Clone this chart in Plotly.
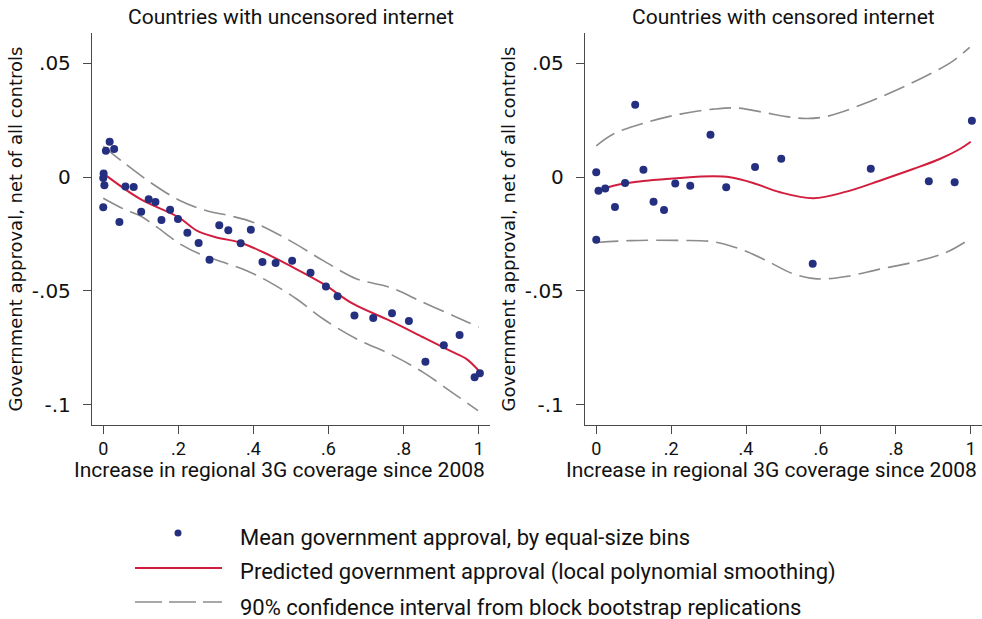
import plotly.graph_objects as go

# ---------------- data ----------------
left_x = [0.000, 0.000, 0.001, 0.003, 0.007, 0.017, 0.029, 0.043, 0.059, 0.081, 0.101, 0.121, 0.139,
          0.155, 0.178, 0.199, 0.224, 0.254, 0.283, 0.309, 0.333, 0.366, 0.393, 0.424, 0.459, 0.503,
          0.552, 0.593, 0.624, 0.669, 0.719, 0.769, 0.814, 0.858, 0.907, 0.949, 0.989, 1.003]
left_y = [-0.0004, -0.0133, 0.0016, -0.0036, 0.0115, 0.0155, 0.0123, -0.0197, -0.0041, -0.0044,
          -0.0152, -0.0098, -0.0110, -0.0189, -0.0143, -0.0184, -0.0244, -0.0289, -0.0363, -0.0212,
          -0.0234, -0.0291, -0.0231, -0.0373, -0.0377, -0.0367, -0.0420, -0.0480, -0.0523, -0.0608,
          -0.0618, -0.0598, -0.0632, -0.0810, -0.0738, -0.0693, -0.0879, -0.0861]

left_fit_x = [0, 0.098, 0.2, 0.249, 0.302, 0.364, 0.426, 0.497, 0.586, 0.666, 0.763, 0.852, 0.923, 0.967, 1.0]
left_fit_y = [0.0016, -0.0096, -0.0176, -0.0235, -0.0265, -0.0287, -0.0330, -0.0389, -0.0469, -0.0557,
              -0.0630, -0.0703, -0.0762, -0.0798, -0.0850]
left_hi_x = [0, 0.054, 0.125, 0.205, 0.276, 0.338, 0.4, 0.497, 0.586, 0.675, 0.763, 0.852, 0.941, 1.0]
left_hi_y = [0.0135, 0.0064, -0.0023, -0.0104, -0.0148, -0.0170, -0.0199, -0.0279, -0.0367, -0.0447,
             -0.0484, -0.0550, -0.0615, -0.0659]
left_lo_x = [0, 0.054, 0.098, 0.143, 0.205, 0.258, 0.32, 0.382, 0.444, 0.515, 0.586, 0.675, 0.763, 0.852, 0.941, 0.998]
left_lo_y = [-0.0093, -0.0140, -0.0170, -0.0220, -0.0294, -0.0338, -0.0374, -0.0411, -0.0462, -0.0535,
             -0.0623, -0.0711, -0.0776, -0.0857, -0.0959, -0.1025]

right_x = [0.000, 0.000, 0.006, 0.024, 0.050, 0.077, 0.104, 0.126, 0.153, 0.181, 0.211, 0.251, 0.305,
           0.347, 0.424, 0.494, 0.578, 0.733, 0.888, 0.957, 1.003]
right_y = [0.0021, -0.0275, -0.0060, -0.0050, -0.0132, -0.0026, 0.0317, 0.0032, -0.0108, -0.0145,
           -0.0028, -0.0038, 0.0186, -0.0045, 0.0044, 0.0080, -0.0380, 0.0036, -0.0018, -0.0023, 0.0247]

right_fit_x = [0, 0.046, 0.135, 0.224, 0.313, 0.357, 0.419, 0.491, 0.58, 0.668, 0.757, 0.846, 0.917, 0.971, 1.0]
right_fit_y = [-0.0064, -0.0038, -0.0016, -0.0004, 0.0003, -0.0001, -0.0026, -0.0067, -0.0093, -0.0064,
               -0.0016, 0.0035, 0.0079, 0.0123, 0.0155]
right_hi_x = [0, 0.046, 0.135, 0.224, 0.313, 0.375, 0.446, 0.508, 0.562, 0.615, 0.713, 0.802, 0.891, 0.953, 0.997]
right_hi_y = [0.0137, 0.0189, 0.0240, 0.0276, 0.0298, 0.0303, 0.0284, 0.0265, 0.0257, 0.0266, 0.0320,
              0.0382, 0.0452, 0.0510, 0.0569]
right_lo_x = [0, 0.091, 0.224, 0.313, 0.384, 0.455, 0.526, 0.589, 0.668, 0.757, 0.846, 0.935, 1.0]
right_lo_y = [-0.0287, -0.0279, -0.0278, -0.0284, -0.0316, -0.0367, -0.0425, -0.0447, -0.0436, -0.0404,
              -0.0374, -0.0330, -0.0269]

x_tickvals = [0, 0.2, 0.4, 0.6, 0.8, 1]
x_ticktext = ["0", ".2", ".4", ".6", ".8", "1"]
y_tickvals = [0.05, 0, -0.05, -0.1]
y_ticktext = [".05", "0", "-.05", "-.1"]

titles = ["Countries with uncensored internet", "Countries with censored internet"]
x_title = "Increase in regional 3G coverage since 2008"
y_title = "Government approval, net of all controls"
legend_labels = ["Mean government approval, by equal-size bins",
                 "Predicted government approval (local polynomial smoothing)",
                 "90% confidence interval from block bootstrap replications"]

# ---------------- style ----------------
W, H = 982, 619
NAVY = "#242f80"
RED = "#d21e3e"
GRAY = "#8c8c8c"
AX = "#4a4a4a"
DASH = "22px,8px"
DIN = "Roboto, Lato, sans-serif"
VER = "DejaVu Sans, Verdana, sans-serif"

fig = go.Figure()

panels = [
    ("x", "y", left_x, left_y, left_fit_x, left_fit_y, left_hi_x, left_hi_y, left_lo_x, left_lo_y),
    ("x2", "y2", right_x, right_y, right_fit_x, right_fit_y, right_hi_x, right_hi_y, right_lo_x, right_lo_y),
]
for xa, ya, px, py, fx, fy, hx, hy, lx, ly in panels:
    fig.add_trace(go.Scatter(x=hx, y=hy, xaxis=xa, yaxis=ya, mode="lines", line_shape="spline",
                             line=dict(color=GRAY, width=1.6, dash=DASH), showlegend=False))
    fig.add_trace(go.Scatter(x=lx, y=ly, xaxis=xa, yaxis=ya, mode="lines", line_shape="spline",
                             line=dict(color=GRAY, width=1.6, dash=DASH), showlegend=False))
    fig.add_trace(go.Scatter(x=fx, y=fy, xaxis=xa, yaxis=ya, mode="lines", line_shape="spline",
                             line=dict(color=RED, width=2), showlegend=False))
    fig.add_trace(go.Scatter(x=px, y=py, xaxis=xa, yaxis=ya, mode="markers",
                             marker=dict(color=NAVY, size=8, line=dict(width=0)), showlegend=False))

y_top_px, y_bot_px = 33, 425
ydom = [1 - y_bot_px / H, 1 - y_top_px / H]
xdoms = [[92 / W, 490 / W], [585 / W, 982 / W]]

common_x = dict(range=[-0.03, 1.03], tickvals=x_tickvals, ticktext=x_ticktext, showgrid=False,
                zeroline=False, showline=True, linecolor=AX, linewidth=1.3, ticks="outside",
                ticklen=8, tickwidth=1.3, tickcolor=AX, ticklabelstandoff=-1,
                tickfont=dict(family=DIN, size=18, color="#111"))
common_y = dict(range=[-0.1088, 0.0632], tickvals=y_tickvals, ticktext=y_ticktext, showgrid=False,
                zeroline=False, showline=True, linecolor=AX, linewidth=1.3, ticks="outside",
                ticklen=8, tickwidth=1.3, tickcolor=AX, ticklabelstandoff=8,
                tickfont=dict(family=VER, size=20, color="#111"),
                title=dict(text=y_title, font=dict(family=VER, size=18, color="#111"), standoff=4))

fig.update_layout(
    width=W, height=H, margin=dict(l=0, r=0, t=0, b=0),
    paper_bgcolor="white", plot_bgcolor="white", showlegend=False,
    xaxis=dict(domain=xdoms[0], anchor="y", **common_x),
    yaxis=dict(domain=ydom, anchor="x", **common_y),
    xaxis2=dict(domain=xdoms[1], anchor="y2", **common_x),
    yaxis2=dict(domain=ydom, anchor="x2", **common_y),
)

annotations = []
for i, dom in enumerate(xdoms):
    cx = (dom[0] + dom[1]) / 2
    annotations.append(dict(text=titles[i], x=cx, y=1 - 17 / H, xref="paper", yref="paper",
                            xanchor="center", yanchor="middle", showarrow=False,
                            font=dict(family=DIN, size=21, color="#111")))
    annotations.append(dict(text=x_title, x=cx - 12 / W, y=1 - 470 / H, xref="paper", yref="paper",
                            xanchor="center", yanchor="middle", showarrow=False,
                            font=dict(family=DIN, size=21, color="#111")))

# legend (drawn manually to match the original key layout)
leg_rows = [537, 572, 607]
for lab, row in zip(legend_labels, leg_rows):
    annotations.append(dict(text=lab, x=238 / W, y=1 - row / H, xref="paper", yref="paper",
                            xanchor="left", yanchor="middle", showarrow=False,
                            font=dict(family=DIN, size=22, color="#111")))
fig.update_layout(annotations=annotations)

shapes = [
    dict(type="circle", xref="paper", yref="paper", x0=174.5 / W, x1=181.5 / W,
         y0=1 - 536.5 / H, y1=1 - 529.5 / H, fillcolor=NAVY, line=dict(width=0)),
    dict(type="line", xref="paper", yref="paper", x0=135 / W, x1=222 / W,
         y0=1 - 568 / H, y1=1 - 568 / H, line=dict(color=RED, width=2)),
    dict(type="line", xref="paper", yref="paper", x0=135 / W, x1=222 / W,
         y0=1 - 602 / H, y1=1 - 602 / H, line=dict(color=GRAY, width=1.6, dash="27px,7px")),
]
fig.update_layout(shapes=shapes)

fig.write_html("out.html", config={"displayModeBar": False},
               post_script="document.body.style.margin='0';document.body.style.padding='0';")
